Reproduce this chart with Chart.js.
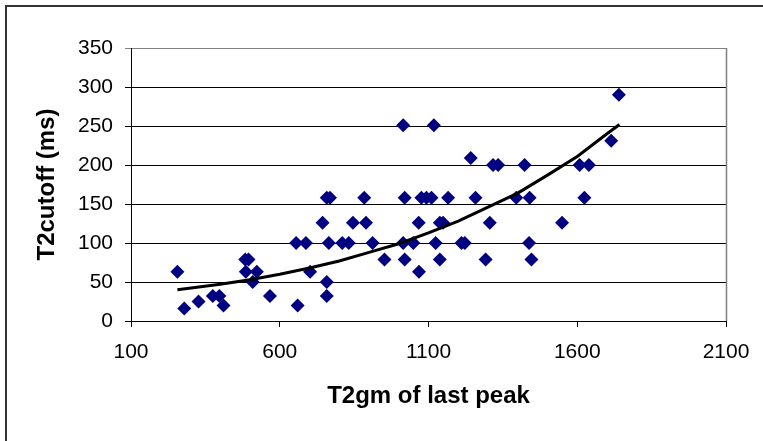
<!DOCTYPE html>
<html>
<head>
<meta charset="utf-8">
<script src="https://cdn.jsdelivr.net/npm/chart.js@4"></script>
<style>
  html, body { margin: 0; padding: 0; background: #fff; }
  canvas { display: block; }
</style>
</head>
<body>
<canvas id="chart" width="763" height="441"></canvas>
<script>
// ---- data ----
const peakT2 = [
  256, 279, 327, 375, 397, 411, 484, 495, 486, 523, 509, 567,
  655, 688, 702, 660, 744, 758, 769, 765, 758, 758, 810, 832,
  846, 884, 890, 912, 952, 1015, 1020, 1015, 1020, 1049, 1067, 1068,
  1076, 1093, 1110, 1118, 1166, 1258, 1138, 1149, 1306, 1124, 1211, 1222,
  1138, 1292, 1242, 1317, 1334, 1423, 1608, 1639, 1395, 1440, 1624, 1549,
  1438, 1446, 1714, 1740
];
const cutoffT2 = [
  63, 16, 25, 32, 32, 20, 79, 79, 63, 63, 50, 32,
  100, 100, 63, 20, 126, 158, 158, 100, 50, 32, 100, 100,
  126, 158, 126, 100, 79, 251, 158, 100, 79, 100, 126, 63,
  158, 158, 158, 251, 158, 158, 126, 126, 126, 100, 100, 100,
  79, 79, 209, 200, 200, 200, 200, 200, 158, 158, 158, 126,
  100, 79, 231, 290
];

// trend line
const trendX = [256, 400, 500, 600, 700, 800, 900, 1000, 1100, 1200, 1300, 1400, 1500, 1600, 1700, 1742];
const trendY = [40, 47, 53, 60, 68, 77, 88, 99, 113, 128, 146, 164, 187, 211, 240, 252];

const xTickValues = [100, 600, 1100, 1600, 2100];
const yTickValues = [0, 50, 100, 150, 200, 250, 300, 350];

const xTitle = "T2gm of last peak";
const yTitle = "T2cutoff (ms)";

// ---- chart ----
Chart.defaults.font.family = "'Liberation Sans', Arial, sans-serif";
Chart.defaults.color = "#000";

const points = peakT2.map((x, i) => ({ x: x, y: cutoffT2[i] }));
const trend = trendX.map((x, i) => ({ x: x, y: trendY[i] }));

// outer frame + grey plot border on the right
const framePlugin = {
  id: "frame",
  beforeDraw(chart) {
    const ctx = chart.ctx;
    ctx.save();
    ctx.fillStyle = "#fff";
    ctx.fillRect(0, 0, chart.width, chart.height);
    ctx.strokeStyle = "#333";
    ctx.lineWidth = 2;
    ctx.strokeRect(6, 6, chart.width + 20, chart.height + 20);
    ctx.restore();
  },
  afterDatasetsDraw(chart) {
    const { ctx, chartArea } = chart;
    ctx.save();
    ctx.strokeStyle = "#808080";
    ctx.lineWidth = 1.5;
    ctx.beginPath();
    ctx.moveTo(Math.round(chartArea.right) + 0.5, chartArea.top);
    ctx.lineTo(Math.round(chartArea.right) + 0.5, chartArea.bottom);
    ctx.stroke();
    ctx.restore();
  }
};

new Chart(document.getElementById("chart"), {
  type: "scatter",
  data: {
    datasets: [
      {
        type: "line",
        data: trend,
        borderColor: "#000",
        borderWidth: 3,
        pointRadius: 0,
        tension: 0,
        fill: false,
        order: 0
      },
      {
        data: points,
        pointStyle: "rectRot",
        pointRadius: 7,
        pointBorderWidth: 0,
        backgroundColor: "#000080",
        borderColor: "#000080",
        order: 1
      }
    ]
  },
  options: {
    responsive: false,
    animation: false,
    devicePixelRatio: 1,
    layout: { padding: { top: 48, right: 37, left: 6, bottom: 0 } },
    plugins: {
      legend: { display: false },
      tooltip: { enabled: false }
    },
    scales: {
      x: {
        type: "linear",
        min: 100,
        max: 2100,
        afterBuildTicks: (s) => { s.ticks = xTickValues.map(v => ({ value: v })); },
        afterFit: (s) => { s.height = 120; },
        grid: { drawOnChartArea: false, drawTicks: true, tickLength: 6, color: "#000" },
        border: { color: "#000", width: 1 },
        ticks: { font: { size: 21 }, padding: 13, maxRotation: 0, callback: (v) => String(v) },
        title: {
          display: true,
          text: xTitle,
          font: { size: 24, weight: "bold" },
          padding: { top: 0, bottom: 30 }
        }
      },
      y: {
        type: "linear",
        min: 0,
        max: 350,
        afterBuildTicks: (s) => { s.ticks = yTickValues.map(v => ({ value: v })); },
        afterFit: (s) => { s.width = 125; },
        grid: {
          color: (c) => (c.tick && c.tick.value === 350 ? "#808080" : "#000"),
          lineWidth: 1,
          tickLength: 6
        },
        border: { color: "#000", width: 1 },
        ticks: { font: { size: 21 }, padding: 12, callback: (v) => String(v) },
        title: {
          display: true,
          text: yTitle,
          font: { size: 24, weight: "bold" },
          padding: { top: 27, bottom: 0 }
        }
      }
    }
  },
  plugins: [framePlugin]
});
</script>
</body>
</html>
